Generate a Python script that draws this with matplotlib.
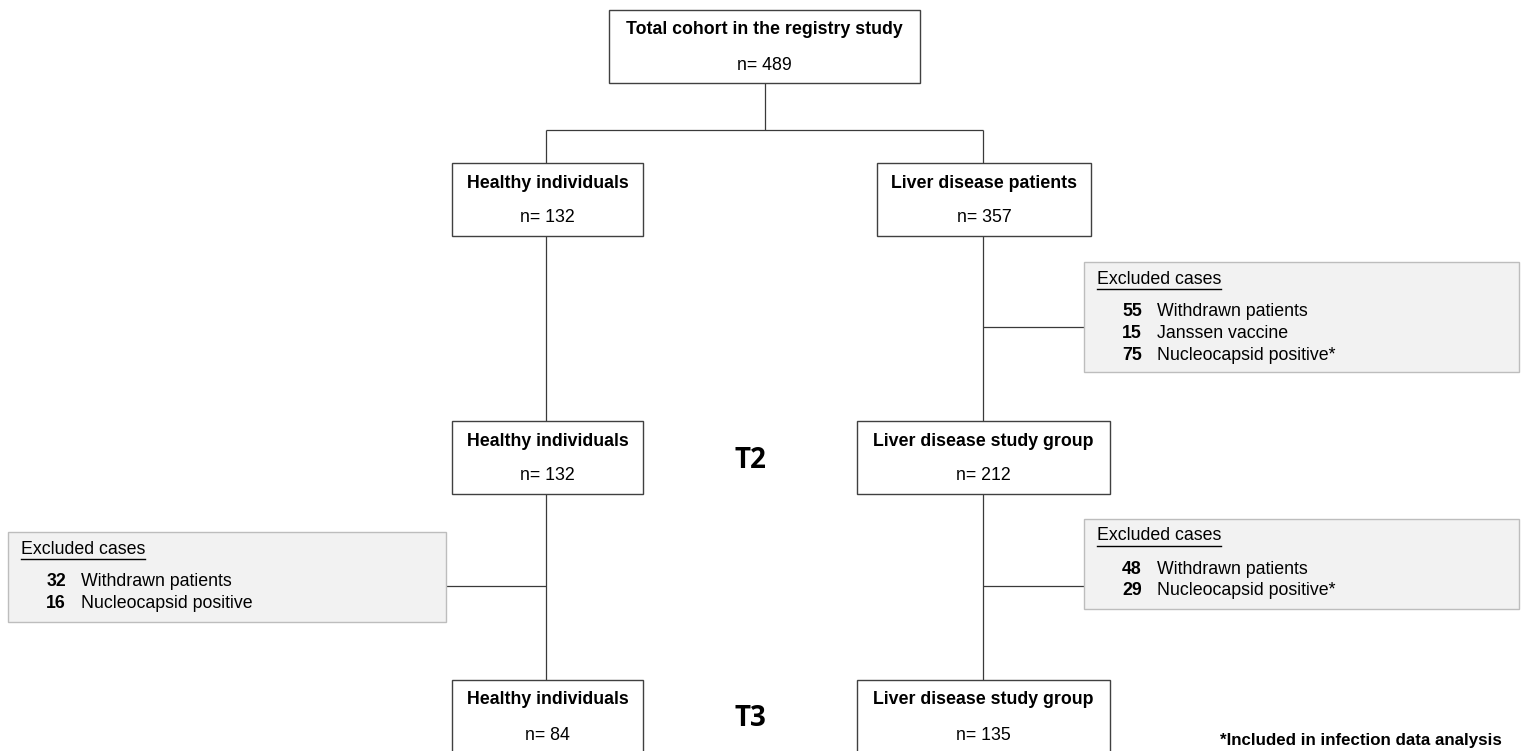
import matplotlib.pyplot as plt
from matplotlib.patches import Rectangle

# Flowchart data
total_label = "Total cohort in the registry study"
total_n = 489
healthy_labels = ["Healthy individuals", "Healthy individuals", "Healthy individuals"]
healthy_n = [132, 132, 84]
liver_labels = ["Liver disease patients", "Liver disease study group", "Liver disease study group"]
liver_n = [357, 212, 135]
stage_labels = ["", "T2", "T3"]

excl_liver_t2_n = [55, 15, 75]
excl_liver_t2_reason = ["Withdrawn patients", "Janssen vaccine", "Nucleocapsid positive*"]
excl_liver_t3_n = [48, 29]
excl_liver_t3_reason = ["Withdrawn patients", "Nucleocapsid positive*"]
excl_healthy_t3_n = [32, 16]
excl_healthy_t3_reason = ["Withdrawn patients", "Nucleocapsid positive"]
footnote = "*Included in infection data analysis"

W, H = 1527, 751
plt.rcParams["font.family"] = ["Liberation Sans", "DejaVu Sans"]
fig = plt.figure(figsize=(W / 100, H / 100), dpi=100)
ax = fig.add_axes([0, 0, 1, 1])
ax.set_xlim(0, W)
ax.set_ylim(H, 0)
ax.axis("off")

line_kw = dict(color="#3a3a3a", lw=0.9, solid_capstyle="butt", zorder=1)
edge = "#404040"


def node(x0, x1, y0, title, n):
    ax.add_patch(Rectangle((x0, y0), x1 - x0, 73, fc="white", ec=edge, lw=1.0, zorder=2))
    xc = (x0 + x1) / 2
    ax.text(xc, y0 + 20, title, ha="center", va="center", fontsize=12.8,
            fontweight="bold", zorder=3)
    ax.text(xc, y0 + 55, f"n= {n}", ha="center", va="center", fontsize=12.8, zorder=3)


def excl_box(x0, x1, y0, y1, nums, reasons):
    ax.add_patch(Rectangle((x0, y0), x1 - x0, y1 - y0, fc="#f2f2f2", ec="#bdbdbd",
                           lw=1.0, zorder=2))
    t = ax.text(x0 + 13, y0 + 17, "Excluded cases", ha="left", va="center",
                fontsize=12.8, zorder=3)
    fig.canvas.draw()
    bb = t.get_window_extent().transformed(ax.transData.inverted())
    ax.plot([bb.x0, bb.x1], [y0 + 27, y0 + 27], color="black", lw=1.0, zorder=3)
    for i, (num, reason) in enumerate(zip(nums, reasons)):
        yy = y0 + 50 + i * 21.5
        ax.text(x0 + 58, yy, str(num), ha="right", va="center", fontsize=12.8,
                fontweight="bold", zorder=3)
        ax.text(x0 + 73, yy, reason, ha="left", va="center", fontsize=12.8, zorder=3)


# connectors
ax.plot([765, 765], [83, 130], **line_kw)
ax.plot([546, 983], [130, 130], **line_kw)
ax.plot([546, 546], [130, 163], **line_kw)
ax.plot([983, 983], [130, 163], **line_kw)
ax.plot([546, 546], [236, 421], **line_kw)
ax.plot([983, 983], [236, 421], **line_kw)
ax.plot([546, 546], [494, 680], **line_kw)
ax.plot([983, 983], [494, 680], **line_kw)
ax.plot([983, 1084], [327, 327], **line_kw)
ax.plot([983, 1084], [586, 586], **line_kw)
ax.plot([446, 546], [586, 586], **line_kw)

# top box
node(609, 920, 10, total_label, total_n)

rows_y = [163, 421, 680]
liver_x = [(877, 1091), (857, 1110), (857, 1110)]
for i, y0 in enumerate(rows_y):
    node(452, 643, y0, healthy_labels[i], healthy_n[i])
    node(liver_x[i][0], liver_x[i][1], y0, liver_labels[i], liver_n[i])
    if stage_labels[i]:
        ax.text(750, y0 + 39, stage_labels[i], ha="center", va="center",
                fontsize=20, fontweight="bold", family=["Open Sans", "DejaVu Sans"])

excl_box(1084, 1519, 262, 372, excl_liver_t2_n, excl_liver_t2_reason)
excl_box(1084, 1519, 519, 609, excl_liver_t3_n, excl_liver_t3_reason)
excl_box(8, 446, 532, 622, excl_healthy_t3_n, excl_healthy_t3_reason)

ax.text(1502, 740, footnote, ha="right", va="center", fontsize=12.2,
        fontweight="bold", family=["Liberation Sans Narrow", "Liberation Sans"])

fig.savefig("out.png", dpi=100)
